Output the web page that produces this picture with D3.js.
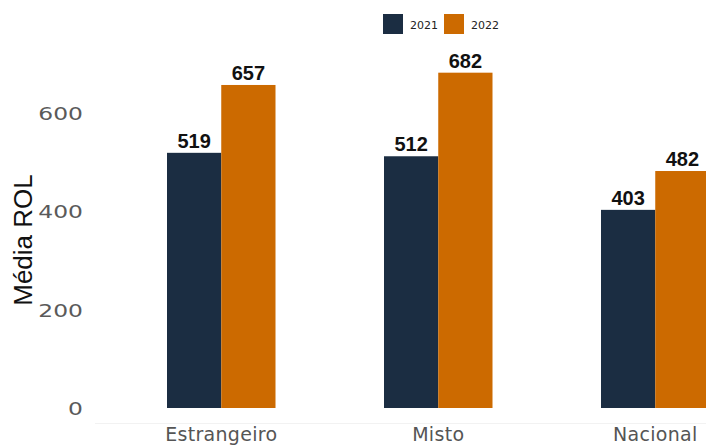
<!DOCTYPE html>
<html>
<head>
<meta charset="utf-8">
<script src="https://cdn.jsdelivr.net/npm/d3@7"></script>
<style>
  html, body { margin: 0; padding: 0; background: #fff; }
  svg { display: block; }
</style>
</head>
<body>
<svg id="chart" width="706" height="446"></svg>
<script>
const categories = ["Estrangeiro", "Misto", "Nacional"];
const years = ["2021", "2022"];
const values2021 = [519, 512, 403];
const values2022 = [657, 682, 482];
const yTicks = [0, 200, 400, 600];
const colors = ["#1b2d42", "#cc6a00"];

const rows = categories.map((c, i) => ({ cat: c, vals: [values2021[i], values2022[i]] }));

const svg = d3.select("#chart");
const W = 706, H = 446;

const x = d3.scaleBand().domain(categories).range([58.5, 818]).paddingInner(0.5).paddingOuter(0.5);
const xi = d3.scaleBand().domain(years).range([0, x.bandwidth()]);
const y = d3.scaleLinear().domain([0, 600]).range([408, 113]);
const color = d3.scaleOrdinal().domain(years).range(colors);

// faint axis rule
svg.append("line")
  .attr("x1", 95).attr("x2", W).attr("y1", 423.5).attr("y2", 423.5)
  .attr("stroke", "#f2f2f2").attr("stroke-width", 1);

// y axis tick labels, drawn in a wide face
const yAxis = d3.axisLeft(y).tickValues(yTicks).tickSize(0).tickPadding(0);
const gy = svg.append("g").attr("transform", "translate(83,0)").call(yAxis);
gy.select(".domain").remove();
gy.selectAll(".tick text")
  .attr("fill", "#5a5a5a")
  .attr("dy", "0.36em")
  .attr("transform", "scale(1.3,1)")
  .style("font-family", "'DejaVu Sans', sans-serif")
  .style("font-size", "18px");

// y title
svg.append("text")
  .attr("transform", "translate(32,240) rotate(-90)")
  .attr("text-anchor", "middle")
  .attr("fill", "#111")
  .style("font-family", "'Liberation Sans', Arial, sans-serif")
  .style("font-size", "26px")
  .text("Média ROL");

// bars
const groups = svg.append("g").selectAll("g").data(rows).join("g")
  .attr("transform", d => `translate(${x(d.cat)},0)`);

groups.selectAll("rect").data(d => d.vals.map((v, j) => ({ year: years[j], v })))
  .join("rect")
  .attr("x", d => xi(d.year))
  .attr("y", d => y(d.v))
  .attr("width", xi.bandwidth())
  .attr("height", d => y(0) - y(d.v))
  .attr("fill", d => color(d.year));

groups.selectAll("text.val").data(d => d.vals.map((v, j) => ({ year: years[j], v })))
  .join("text")
  .attr("class", "val")
  .attr("x", d => xi(d.year) + xi.bandwidth() / 2)
  .attr("y", d => y(d.v) - 5)
  .attr("text-anchor", "middle")
  .attr("fill", "#111")
  .style("font-family", "'Liberation Sans', Arial, sans-serif")
  .style("font-weight", "bold")
  .style("font-size", "20px")
  .text(d => d.v);

// x axis category labels
const xAxis = d3.axisBottom(x).tickSize(0).tickPadding(0);
const gx = svg.append("g").attr("transform", "translate(0,427)").call(xAxis);
gx.select(".domain").remove();
gx.selectAll("text")
  .attr("fill", "#555")
  .style("font-family", "'DejaVu Sans', sans-serif")
  .style("font-size", "19px")
  .style("letter-spacing", "0.3px");

// legend
const legend = svg.append("g").selectAll("g").data(years).join("g")
  .attr("transform", (d, i) => `translate(${383 + i * 61},14)`);
legend.append("rect").attr("width", 20).attr("height", 20).attr("fill", d => color(d));
legend.append("text")
  .attr("x", 27).attr("y", 14.5)
  .attr("fill", "#222")
  .style("font-family", "'DejaVu Sans', sans-serif")
  .style("font-size", "11px")
  .text(d => d);
</script>
</body>
</html>
